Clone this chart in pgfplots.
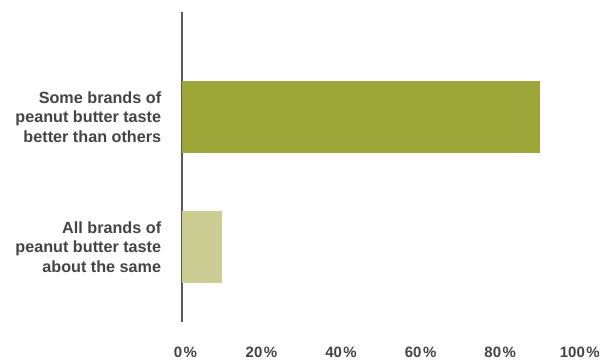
\documentclass[border=0pt]{standalone}
\usepackage{pgfplots}
\pgfplotsset{compat=1.18}
\usepackage{fontspec}
\setmainfont{Liberation Sans}
\definecolor{barA}{RGB}{157,166,56}
\definecolor{barB}{RGB}{203,205,147}
\definecolor{txt}{RGB}{68,68,70}
\definecolor{axl}{RGB}{88,89,91}
\begin{document}
\begin{tikzpicture}
\begin{axis}[
  scale only axis,
  width=398bp, height=310bp,
  xmin=0, xmax=100,
  ymin=-0.577, ymax=1.808,
  axis lines=left,
  axis line style={-},
  x axis line style={draw=none},
  y axis line style={draw=axl, line width=2.5bp},
  tick style={draw=none},
  xtick={0,20,40,60,80,100},
  xticklabels={\hspace*{7bp}0\kern1.5bp\%,20\kern1.5bp\%,40\kern1.5bp\%,60\kern1.5bp\%,80\kern1.5bp\%,100\kern1.5bp\%},
  xticklabel style={font=\fontsize{15bp}{18bp}\selectfont\bfseries, text=txt, yshift=-19.5bp},
  ytick={0,1},
  yticklabels={{All brands of\\peanut butter taste\\about the same},{Some brands of\\peanut butter taste\\better than others}},
  yticklabel style={align=right, font=\fontsize{16.2bp}{19.5bp}\selectfont\bfseries, text=txt, xshift=-13bp},
  xbar, bar width=0.554, bar shift=0pt,
]
\addplot[draw=none, fill=barB] coordinates {(10,0)};
\addplot[draw=none, fill=barA] coordinates {(90,1)};
\end{axis}
\path (current axis.south west) ++(-182bp,-36bp) rectangle ++(603bp,358bp);
\end{tikzpicture}
\end{document}
